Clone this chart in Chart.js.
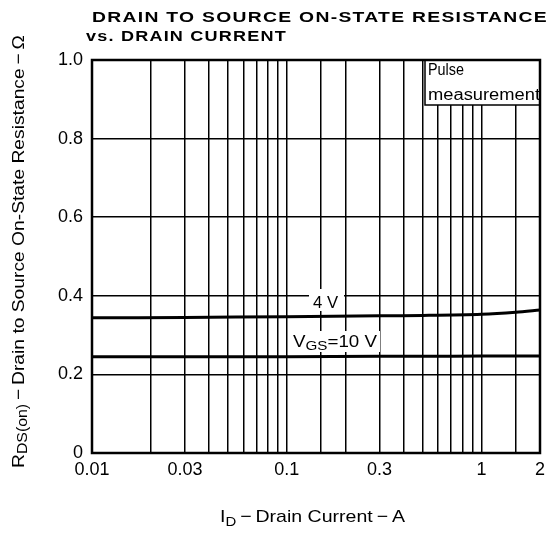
<!DOCTYPE html>
<html>
<head>
<meta charset="utf-8">
<script src="https://cdn.jsdelivr.net/npm/chart.js@4.4.0/dist/chart.umd.min.js"></script>
<style>
  html, body { margin: 0; padding: 0; background: #fff; }
  #wrap { width: 551px; height: 535px; }
</style>
</head>
<body>
<div id="wrap"><canvas id="chart" width="551" height="535"></canvas></div>
<script>
// valores
const drainCurrent = [0.01, 0.03, 0.1, 0.3, 0.5, 1, 1.5, 2];
const rds4V = [0.344, 0.345, 0.347, 0.349, 0.350, 0.353, 0.358, 0.364];
const rds10V = [0.245, 0.245, 0.245, 0.246, 0.246, 0.247, 0.247, 0.247];
const xTickLabels = [0.01, 0.03, 0.1, 0.3, 1, 2];
const yTickLabels = ['0', '0.2', '0.4', '0.6', '0.8', '1.0'];

const FONT = '"Liberation Sans", Arial, Helvetica, sans-serif';

// escreve uma sequência de pedaços [texto, tamanho, deslocamento] esticada até a largura alvo
function drawRuns(ctx, runs, x, y, targetW, weight) {
  const w = weight || '';
  let total = 0;
  runs.forEach(r => { ctx.font = w + ' ' + r[1] + 'px ' + FONT; total += ctx.measureText(r[0]).width; });
  const k = targetW ? targetW / total : 1;
  ctx.save();
  ctx.translate(x, y);
  ctx.scale(k, 1);
  let cx = 0;
  runs.forEach(r => {
    ctx.font = w + ' ' + r[1] + 'px ' + FONT;
    ctx.fillText(r[0], cx, r[2] || 0);
    cx += ctx.measureText(r[0]).width;
  });
  ctx.restore();
}

// desenha os textos e caixas que não são eixos
const extras = {
  id: 'extras',
  afterDatasetsDraw(chart) {
    const ctx = chart.ctx;
    const a = chart.chartArea;
    ctx.save();
    ctx.strokeStyle = '#000';
    ctx.textBaseline = 'alphabetic';

    // caixa "Pulse measurement"
    ctx.fillStyle = '#fff';
    ctx.fillRect(425, a.top, a.right - 425, 45);
    ctx.lineWidth = 1.5;
    ctx.strokeRect(425, a.top, a.right - 425, 45);
    ctx.fillStyle = '#000';
    drawRuns(ctx, [['Pulse', 16]], 428, 75, 36);
    drawRuns(ctx, [['measurement', 16]], 428, 100, 112);

    // rótulo 4 V
    ctx.fillStyle = '#fff';
    ctx.fillRect(309, 289, 35, 22);
    ctx.fillStyle = '#000';
    drawRuns(ctx, [['4 V', 16]], 313, 308, 25);

    // rótulo VGS = 10 V
    ctx.fillStyle = '#fff';
    ctx.fillRect(290, 331, 90, 21);
    ctx.fillStyle = '#000';
    drawRuns(ctx, [['V', 16], ['GS', 13, 3], ['=10 V', 16]], 293, 347, 84);

    // moldura
    ctx.lineWidth = 2.5;
    ctx.strokeRect(a.left, a.top, a.right - a.left, a.bottom - a.top);

    // título
    ctx.letterSpacing = '1px';
    drawRuns(ctx, [['DRAIN TO SOURCE ON-STATE RESISTANCE', 15]], 92, 22, 456, 'bold');
    drawRuns(ctx, [['vs. DRAIN CURRENT', 15]], 86, 41, 201, 'bold');
    ctx.letterSpacing = '0px';

    // título do eixo x
    drawRuns(ctx, [['I', 17], ['D', 13, 4], ['\u2009\u2212\u2009Drain Current\u2009\u2212\u2009A', 17]], 220, 522, 185);

    // título do eixo y (vertical)
    ctx.translate(24, 468);
    ctx.rotate(-Math.PI / 2);
    drawRuns(ctx, [['R', 17], ['DS(on)', 14, 3], ['\u2009\u2212\u2009Drain to Source On-State Resistance\u2009\u2212\u2009\u03a9', 17]], 0, 0, 433);
    ctx.restore();
  }
};

new Chart(document.getElementById('chart').getContext('2d'), {
  type: 'line',
  data: {
    datasets: [
      {
        label: '4 V',
        data: drainCurrent.map((v, i) => ({ x: v, y: rds4V[i] })),
        borderColor: '#000',
        borderWidth: 3,
        pointRadius: 0,
        tension: 0.3
      },
      {
        label: 'VGS = 10 V',
        data: drainCurrent.map((v, i) => ({ x: v, y: rds10V[i] })),
        borderColor: '#000',
        borderWidth: 3,
        pointRadius: 0,
        tension: 0.3
      }
    ]
  },
  options: {
    responsive: false,
    animation: false,
    layout: { padding: { top: 60, right: 7, left: 0, bottom: 0 } },
    plugins: {
      legend: { display: false },
      tooltip: { enabled: false },
      title: { display: false }
    },
    scales: {
      x: {
        type: 'logarithmic',
        min: 0.01,
        max: 2,
        afterFit(scale) { scale.height = 82; },
        grid: { color: '#000', lineWidth: 1.5, drawTicks: false },
        border: { display: false },
        ticks: {
          autoSkip: false,
          maxRotation: 0,
          padding: 6,
          color: '#000',
          font: { family: FONT, size: 18 },
          callback(value) {
            const hit = xTickLabels.find(t => Math.abs(t - value) / t < 1e-6);
            return hit !== undefined ? String(hit) : '';
          }
        }
      },
      y: {
        min: 0,
        max: 1,
        afterFit(scale) { scale.width = 92; },
        grid: { color: '#000', lineWidth: 1.5, drawTicks: false },
        border: { display: false },
        ticks: {
          stepSize: 0.2,
          padding: 9,
          color: '#000',
          font: { family: FONT, size: 18 },
          callback(value) {
            return yTickLabels[Math.round(value * 5)];
          }
        }
      }
    }
  },
  plugins: [extras]
});
</script>
</body>
</html>
